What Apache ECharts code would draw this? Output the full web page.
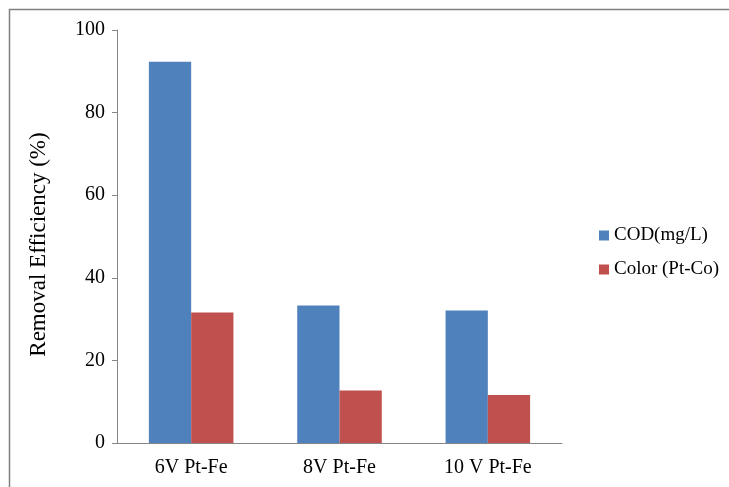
<!DOCTYPE html>
<html>
<head>
<meta charset="utf-8">
<script src="https://cdn.jsdelivr.net/npm/echarts@6/dist/echarts.min.js"></script>
<style>
  html, body { margin: 0; padding: 0; background: #fff; }
  #chart { width: 729px; height: 487px; }
</style>
</head>
<body>
<div id="chart"></div>
<script>
// Removal efficiency per applied voltage
const categories = ['6V Pt-Fe', '8V Pt-Fe', '10 V Pt-Fe'];
const codValues = [92.3, 33.3, 32.1];
const colorValues = [31.6, 12.7, 11.6];
const seriesNames = ['COD(mg/L)', 'Color (Pt-Co)'];
const yTicks = { min: 0, max: 100, interval: 20 };

const serif = '"Liberation Serif", "Times New Roman", serif';

const chart = echarts.init(document.getElementById('chart'), null, { renderer: 'canvas' });
chart.setOption({
  animation: false,
  backgroundColor: '#ffffff',
  graphic: [{
    type: 'rect',
    shape: { x: 9.5, y: 9.5, width: 760, height: 520 },
    style: { fill: 'none', stroke: '#7f7f7f', lineWidth: 1.5 },
    silent: true
  }],
  grid: { left: 117, right: 167, top: 30, bottom: 44, containLabel: false },
  legend: {
    orient: 'vertical',
    left: 594,
    top: 221,
    itemWidth: 10,
    itemHeight: 10,
    itemGap: 15,
    icon: 'rect',
    textStyle: { fontFamily: serif, fontSize: 19, color: '#000' },
    data: seriesNames
  },
  xAxis: {
    type: 'category',
    data: categories,
    axisLine: { lineStyle: { color: '#868686', width: 1 } },
    axisTick: { show: false },
    axisLabel: { fontFamily: serif, fontSize: 20, color: '#000', margin: 15 }
  },
  yAxis: {
    type: 'value',
    min: yTicks.min,
    max: yTicks.max,
    interval: yTicks.interval,
    name: 'Removal Efficiency (%)',
    nameLocation: 'middle',
    nameGap: 67,
    nameTextStyle: { fontFamily: serif, fontSize: 23, color: '#000', padding: [0, 16, 0, 0] },
    axisLine: { show: true, lineStyle: { color: '#868686', width: 1 } },
    axisTick: { show: true, length: 5, lineStyle: { color: '#868686' } },
    splitLine: { show: false },
    axisLabel: { fontFamily: serif, fontSize: 20, color: '#000', margin: 12 }
  },
  series: [
    {
      name: seriesNames[0],
      type: 'bar',
      data: codValues,
      barGap: '0%',
      barCategoryGap: '43%',
      itemStyle: { color: '#4f81bd' }
    },
    {
      name: seriesNames[1],
      type: 'bar',
      data: colorValues,
      itemStyle: { color: '#c0504d' }
    }
  ]
});
</script>
</body>
</html>
